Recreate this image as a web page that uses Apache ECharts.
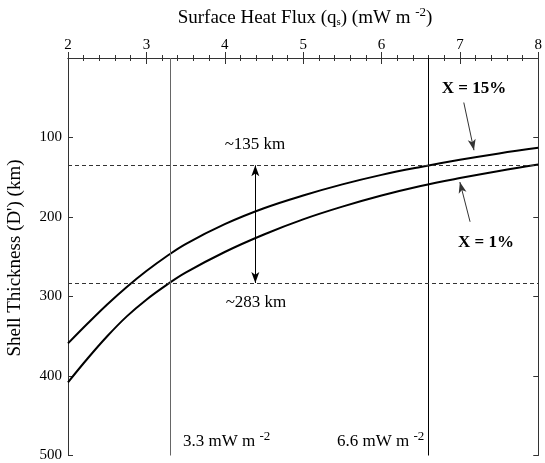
<!DOCTYPE html>
<html>
<head>
<meta charset="utf-8">
<script src="https://cdn.jsdelivr.net/npm/echarts@6/dist/echarts.min.js"></script>
<style>html,body{margin:0;padding:0;background:#fff}#c{width:545px;height:463px}</style>
</head>
<body>
<div id="c"></div>
<script>
// Surface heat flux (mW m^-2)
var heatFlux = [2.0, 2.25, 2.5, 2.75, 3.0, 3.25, 3.5, 4.0, 4.5, 5.0, 5.5, 6.0, 6.5, 7.0, 7.5, 8.0];
// Shell thickness (km), X = 15%
var thick15 = [359, 334, 310, 288, 268, 250, 234, 209, 189, 173, 159, 147, 137, 128, 120, 113];
// Shell thickness (km), X = 1%
var thick1 = [408, 378, 350, 325, 304, 286, 270, 244, 222, 203, 187, 173, 161, 151, 142, 134];
var xTicks = [2, 3, 4, 5, 6, 7, 8];
var yTicks = [100, 200, 300, 400, 500];
var refFlux = [3.3, 6.6];
var refThick = [135, 283];

var FONT = '"Liberation Serif","Times New Roman",serif';
function pairs(xs, ys) { return xs.map(function (x, i) { return [x, ys[i]]; }); }

var chart = echarts.init(document.getElementById('c'), null, {renderer: 'canvas'});
var axisLine = {lineStyle: {color: '#333', width: 1}};
chart.setOption({
  animation: false,
  backgroundColor: '#fff',
  grid: {left: 68, right: 2, top: 58, bottom: 6},
  xAxis: [{
    type: 'value', position: 'top', min: 2, max: 8, interval: 1,
    axisLine: axisLine,
    axisTick: {inside: true, length: 6, lineStyle: {color: '#333'}},
    minorTick: {show: true, splitNumber: 5, length: 3, lineStyle: {color: '#333'}},
    axisLabel: {fontFamily: FONT, fontSize: 15, color: '#000', margin: 5},
    splitLine: {show: false}
  }, {
    type: 'value', position: 'bottom', min: 2, max: 8, interval: 1,
    axisLine: axisLine,
    axisTick: {inside: true, length: 6, lineStyle: {color: '#333'}},
    minorTick: {show: true, splitNumber: 5, length: 3, lineStyle: {color: '#333'}},
    axisLabel: {show: false},
    splitLine: {show: false}
  }],
  yAxis: [{
    type: 'value', inverse: true, min: 0, max: 500, interval: 100, position: 'left',
    axisLine: axisLine,
    axisTick: {inside: true, length: 5, lineStyle: {color: '#333'}},
    axisLabel: {fontFamily: FONT, fontSize: 15, color: '#000', margin: 6,
      formatter: function (v) { return yTicks.indexOf(v) >= 0 ? String(v) : ''; }},
    splitLine: {show: false}
  }, {
    type: 'value', inverse: true, min: 0, max: 500, interval: 100, position: 'right',
    axisLine: axisLine,
    axisTick: {inside: true, length: 5, lineStyle: {color: '#333'}},
    axisLabel: {show: false},
    splitLine: {show: false}
  }],
  series: [{
    name: 'X = 15%', type: 'line', smooth: 0.4, symbol: 'none',
    data: pairs(heatFlux, thick15),
    lineStyle: {color: '#000', width: 2},
    markLine: {
      silent: true, symbol: ['none', 'none'], label: {show: false},
      data: [
        [{coord: [refFlux[0], 0], lineStyle: {color: '#666', width: 1, type: 'solid'}}, {coord: [refFlux[0], 500]}],
        [{coord: [refFlux[1], 0], lineStyle: {color: '#000', width: 1, type: 'solid'}}, {coord: [refFlux[1], 500]}],
        [{coord: [2, refThick[0]], lineStyle: {color: '#333', width: 1, type: [4, 3]}}, {coord: [8, refThick[0]]}],
        [{coord: [2, refThick[1]], lineStyle: {color: '#333', width: 1, type: [4, 3]}}, {coord: [8, refThick[1]]}]
      ]
    }
  }, {
    name: 'X = 1%', type: 'line', smooth: 0.4, symbol: 'none',
    data: pairs(heatFlux, thick1),
    lineStyle: {color: '#000', width: 2},
    markLine: {
      silent: true, symbol: ['arrow', 'arrow'], symbolSize: [6, 11], label: {show: false},
      lineStyle: {color: '#000', width: 1, type: 'solid'},
      data: [
        [{coord: [4.39, refThick[0]]}, {coord: [4.39, refThick[1]]}],
        [{coord: [7.05, 56], symbol: 'none'}, {coord: [7.18, 116], symbol: 'arrow', lineStyle: {color: '#333'}}],
        [{coord: [7.13, 206], symbol: 'none'}, {coord: [7.0, 156], symbol: 'arrow', lineStyle: {color: '#333'}}]
      ]
    }
  }],
  graphic: [
    {type: 'text', x: 305, y: 18, style: {
      text: '{a|Surface Heat Flux (q}{b|s}{a|) (mW m }{c|-2}{a|)}',
      textAlign: 'center', textVerticalAlign: 'middle',
      rich: {
        a: {fontFamily: FONT, fontSize: 19, fill: '#000', lineHeight: 26, verticalAlign: 'middle'},
        b: {fontFamily: FONT, fontSize: 11, fill: '#000', padding: [8, 0, 0, 0]},
        c: {fontFamily: FONT, fontSize: 13, fill: '#000', padding: [0, 0, 10, 0]}
      }}},
    {type: 'text', x: 15, y: 258, rotation: Math.PI / 2, style: {
      text: "Shell Thickness (D') (km)", fontFamily: FONT, fontSize: 19, fill: '#000',
      textAlign: 'center', textVerticalAlign: 'middle'}},
    {type: 'text', x: 255, y: 145, style: {text: '~135 km', fontFamily: FONT, fontSize: 17, fill: '#000',
      textAlign: 'center', textVerticalAlign: 'middle'}},
    {type: 'text', x: 256, y: 303, style: {text: '~283 km', fontFamily: FONT, fontSize: 17, fill: '#000',
      textAlign: 'center', textVerticalAlign: 'middle'}},
    {type: 'text', x: 474, y: 89, style: {text: 'X = 15%', fontFamily: FONT, fontSize: 17, fontWeight: 'bold', fill: '#000',
      textAlign: 'center', textVerticalAlign: 'middle'}},
    {type: 'text', x: 486, y: 243, style: {text: 'X = 1%', fontFamily: FONT, fontSize: 17, fontWeight: 'bold', fill: '#000',
      textAlign: 'center', textVerticalAlign: 'middle'}},
    {type: 'text', x: 183, y: 430, style: {
      text: '{a|3.3 mW m }{c|-2}',
      rich: {a: {fontFamily: FONT, fontSize: 17, fill: '#000', lineHeight: 22}, c: {fontFamily: FONT, fontSize: 13, fill: '#000', padding: [0, 0, 10, 0]}}}},
    {type: 'text', x: 337, y: 430, style: {
      text: '{a|6.6 mW m }{c|-2}',
      rich: {a: {fontFamily: FONT, fontSize: 17, fill: '#000', lineHeight: 22}, c: {fontFamily: FONT, fontSize: 13, fill: '#000', padding: [0, 0, 10, 0]}}}}
  ]
});
</script>
</body>
</html>
